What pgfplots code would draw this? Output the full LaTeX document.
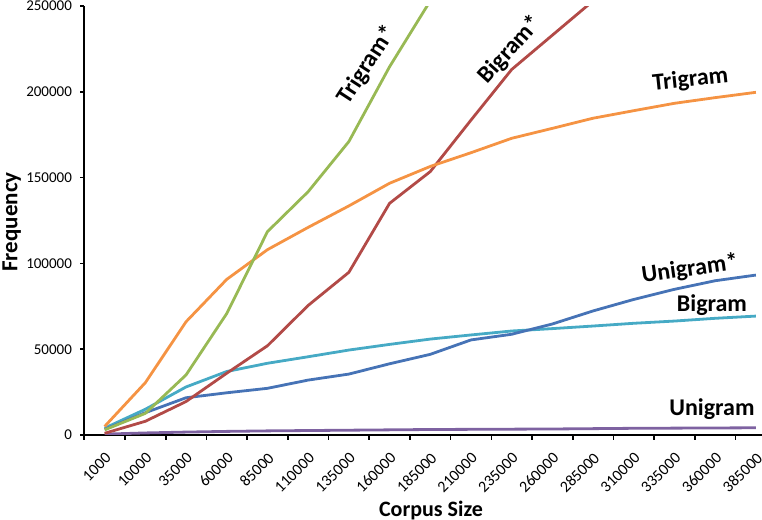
\documentclass[border=0pt]{standalone}
\usepackage{fontspec}
\setmainfont{Carlito}
\usepackage{pgfplots}
\pgfplotsset{compat=1.18}
\definecolor{cUni}{HTML}{7E62A1}
\definecolor{cUniS}{HTML}{4673B6}
\definecolor{cBi}{HTML}{46AAC5}
\definecolor{cBiS}{HTML}{B24A47}
\definecolor{cTri}{HTML}{F59343}
\definecolor{cTriS}{HTML}{98B954}
\begin{document}
\begin{tikzpicture}
\begin{axis}[
  name=ax, at={(0,0)}, anchor=south west,
  scale only axis, width=338.85pt, height=214.5pt,
  xmin=-0.5, xmax=16.15, ymin=0, ymax=250000,
  axis lines=left,
  axis line style={-, line width=1pt, black},
  xtick={0,...,16},
  xticklabels={1000,10000,35000,60000,85000,110000,135000,160000,185000,210000,235000,260000,285000,310000,335000,360000,385000},
  major x tick style={draw=none},
  minor xtick={-0.5,0.5,...,15.5},
  minor tick length=2.5pt,
  major tick length=2pt,
  tick align=outside,
  tick style={black, line width=0.8pt},
  ytick={0,50000,100000,150000,200000,250000},
  yticklabels={0,50000,100000,150000,200000,250000},
  /pgf/number format/assume math mode=true,
  xticklabel style={xshift=1.9pt, yshift=-8.1pt, rotate=45, anchor=east, inner sep=0pt, font=\fontsize{8}{9}\selectfont},
  yticklabel style={anchor=east, inner sep=0pt, font=\fontsize{7.5}{9}\selectfont, xshift=-4pt},
  clip mode=individual,
  every axis plot/.append style={line width=1.4pt, no markers, line join=round},
]
\addplot[cUni] coordinates {(0,500) (1,1200) (2,1700) (3,2100) (4,2400) (5,2600) (6,2800) (7,3000) (8,3200) (9,3300) (10,3400) (11,3500) (12,3700) (13,3900) (14,4000) (15,4100) (16,4200)};
\addplot[cBi] coordinates {(0,4000) (1,15000) (2,28000) (3,37000) (4,41800) (5,45600) (6,49500) (7,52800) (8,55900) (9,58300) (10,60600) (11,62000) (12,63500) (13,65100) (14,66400) (15,68000) (16,69300)};
\addplot[cUniS] coordinates {(0,3300) (1,13000) (2,21700) (3,24600) (4,27200) (5,32000) (6,35500) (7,41500) (8,47000) (9,55400) (10,58700) (11,64700) (12,72300) (13,79000) (14,84900) (15,89900) (16,93200)};
\addplot[cBiS] coordinates {(0,1000) (1,8000) (2,19500) (3,36000) (4,52000) (5,75500) (6,94800) (7,135000) (8,153500) (9,183500) (10,213000) (11,233000) (12,253000)};
\addplot[cTri] coordinates {(0,5000) (1,30500) (2,66000) (3,90700) (4,108000) (5,121000) (6,133500) (7,146700) (8,156500) (9,164500) (10,172900) (11,178700) (12,184600) (13,189000) (14,193300) (15,196600) (16,199700)};
\addplot[cTriS] coordinates {(0,3000) (1,12600) (2,35000) (3,70800) (4,118500) (5,141800) (6,171000) (7,214600) (8,253000)};
\node[font=\fontsize{12}{14}\bfseries, rotate=57] at (axis cs:6.45,215600) {Trigram*};
\node[font=\fontsize{12}{14}\bfseries, rotate=48] at (axis cs:9.97,224500) {Bigram*};
\node[font=\fontsize{12}{14}\bfseries, rotate=6] at (axis cs:14.39,206900) {Trigram};
\node[font=\fontsize{12}{14}\bfseries, rotate=8] at (axis cs:14.38,96500) {Unigram*};
\node[font=\fontsize{12}{14}\bfseries] at (axis cs:14.92,75800) {Bigram};
\node[font=\fontsize{12}{14}\bfseries] at (axis cs:14.92,15150) {Unigram};
\end{axis}
\node[font=\fontsize{11.5}{14}\bfseries, rotate=90, anchor=base] at (-33.5pt,106.5pt) {Frequency};
\node[font=\fontsize{11}{14}\bfseries, anchor=base] at (173.35pt,-41pt) {Corpus Size};
\pgfresetboundingbox
\path (-42.15pt,-42.5pt) rectangle (338.85pt,217.5pt);
\end{tikzpicture}
\end{document}
